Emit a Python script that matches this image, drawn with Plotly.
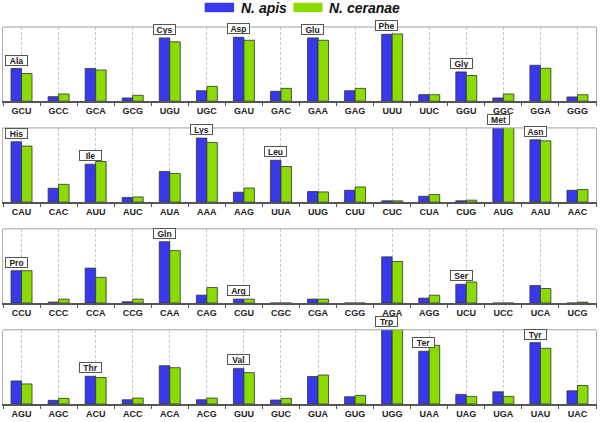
import plotly.graph_objects as go
from plotly.subplots import make_subplots

codons1 = ["GCU","GCC","GCA","GCG","UGU","UGC","GAU","GAC","GAA","GAG","UUU","UUC","GGU","GGC","GGA","GGG"]
apis1 = [33, 4.6, 33, 3.3, 64, 10.6, 64.6, 10, 64, 10.6, 67.6, 6.6, 29.6, 3.3, 36.3, 4.3]
cer1 = [28, 7.3, 31.6, 6, 60, 15, 61.6, 13, 61.6, 13, 68, 6.6, 26, 7.3, 33.3, 6.6]
aa1 = {0: "Ala", 4: "Cys", 6: "Asp", 8: "Glu", 10: "Phe", 12: "Gly"}

codons2 = ["CAU","CAC","AUU","AUC","AUA","AAA","AAG","UUA","UUG","CUU","CUC","CUA","CUG","AUG","AAU","AAC"]
apis2 = [61, 14, 38.3, 4.7, 31, 64.7, 10, 42.3, 10.7, 12, 1.3, 6, 1.3, 80, 63, 12]
cer2 = [56.7, 18, 41, 5.3, 29, 60.3, 14.3, 36, 10.3, 15.3, 1.3, 7.7, 2, 80, 62, 12.7]
aa2 = {0: "His", 2: "Ile", 5: "Lys", 7: "Leu", 13: "Met", 14: "Asn"}

codons3 = ["CCU","CCC","CCA","CCG","CAA","CAG","CGU","CGC","CGA","CGG","AGA","AGG","UCU","UCC","UCA","UCG"]
apis3 = [32.7, 1, 35.3, 1.3, 62, 8, 4, 0, 4, 0, 46.7, 5, 19, 0, 17.7, 0]
cer3 = [32.7, 4, 26, 4, 53, 15.7, 4, 0, 4, 0, 42, 8, 21.3, 0, 14.7, 1]
aa3 = {0: "Pro", 4: "Gln", 6: "Arg", 12: "Ser"}

codons4 = ["AGU","AGC","ACU","ACC","ACA","ACG","GUU","GUC","GUA","GUG","UGG","UAA","UAG","UGA","UAU","UAC"]
apis4 = [23.3, 3.7, 28, 4.3, 38.7, 4.3, 36, 4, 27.7, 7.3, 80, 53.3, 9.7, 12.3, 62, 13.3]
cer4 = [20.3, 5.7, 26.7, 6, 36.7, 6, 31.7, 5.7, 29.3, 8.7, 80, 59.3, 7.7, 7.7, 56.3, 18.7]
aa4 = {2: "Thr", 6: "Val", 10: "Trp", 11: "Ter", 14: "Tyr"}

series_names = ["N. apis", "N. ceranae"]
BLUE = "#3838ec"
GREEN = "#8adc00"
YMAX = 75

panels = [(codons1, apis1, cer1, aa1), (codons2, apis2, cer2, aa2),
          (codons3, apis3, cer3, aa3), (codons4, apis4, cer4, aa4)]

W, H = 600, 422
ML, MR, MT, MB = 3, 3, 27, 14
PH = H - MT - MB
fig = make_subplots(rows=4, cols=1, vertical_spacing=27 / PH)

BARGAP = 0.434
bw = (1 - BARGAP) / 2
FONT = "Arial, Liberation Sans, sans-serif"

for r, (cod, a, c, aa) in enumerate(panels, start=1):
    xs = list(range(len(cod)))
    fig.add_trace(go.Bar(x=xs, y=a, name=series_names[0], marker=dict(color=BLUE, line=dict(color="#333333", width=0.8)),
                         showlegend=False), row=r, col=1)
    fig.add_trace(go.Bar(x=xs, y=c, name=series_names[1], marker=dict(color=GREEN, line=dict(color="#333333", width=0.8)),
                         showlegend=False), row=r, col=1)
    fig.update_xaxes(row=r, col=1, range=[-0.5, len(cod) - 0.5], tickvals=xs, ticktext=cod,
                     ticks="", showgrid=True, gridcolor="#c8c8c8", griddash="3px,2px", gridwidth=1,
                     showline=True, linecolor="#555555", linewidth=1.5, zeroline=False,
                     tickfont=dict(family=FONT, size=9, color="#222222", weight="bold"),
                     minor=dict(tickvals=[i - 0.5 for i in range(len(cod) + 1)], ticks="outside",
                                ticklen=3, tickcolor="#555555", showgrid=False),
                     fixedrange=True)
    fig.update_yaxes(row=r, col=1, range=[0, YMAX], showticklabels=False, showgrid=False, zeroline=False,
                     showline=True, linecolor="#b0b0b0", linewidth=1, mirror=True, ticks="", fixedrange=True)
    suffix = "" if r == 1 else str(r)
    fig.add_shape(type="line", xref=f"x{suffix} domain", yref=f"y{suffix} domain", x0=0, x1=1, y0=1, y1=1,
                  line=dict(color="#a0a0a0", width=1), layer="above")
    for i, name in aa.items():
        fig.add_annotation(xref=f"x{suffix}", yref=f"y{suffix}", x=i - bw / 2, y=min(a[i], YMAX),
                           yanchor="bottom", yshift=3, text=name, showarrow=False,
                           font=dict(family=FONT, size=8.5, color="#222222", weight="bold"),
                           bgcolor="white", bordercolor="#555555", borderwidth=1, borderpad=0,
                           width=21, height=9)

# legend
def px_x(p):
    return (p - ML) / (W - ML - MR)

def px_y(p):
    return (H - MB - p) / PH

legend_items = [(205, 234.5, 239, series_names[0], BLUE), (294, 323, 328, series_names[1], GREEN)]
for x0, x1, xt, name, col in legend_items:
    fig.add_shape(type="rect", xref="paper", yref="paper", x0=px_x(x0), x1=px_x(x1), y0=px_y(12), y1=px_y(2.5),
                  fillcolor=col, line=dict(width=0))
    fig.add_annotation(xref="paper", yref="paper", x=px_x(xt), y=px_y(7.5), xanchor="left", yanchor="middle",
                       text=name, showarrow=False,
                       font=dict(family=FONT, size=14, color="#111111", weight="bold", style="italic"))

fig.update_layout(width=W, height=H, margin=dict(l=ML, r=MR, t=MT, b=MB), barmode="group",
                  bargap=BARGAP, bargroupgap=0, plot_bgcolor="white", paper_bgcolor="white",
                  showlegend=False)
fig.write_html("out.html", config={"displayModeBar": False},
               post_script="document.body.style.margin='0px';document.body.style.overflow='hidden';")
